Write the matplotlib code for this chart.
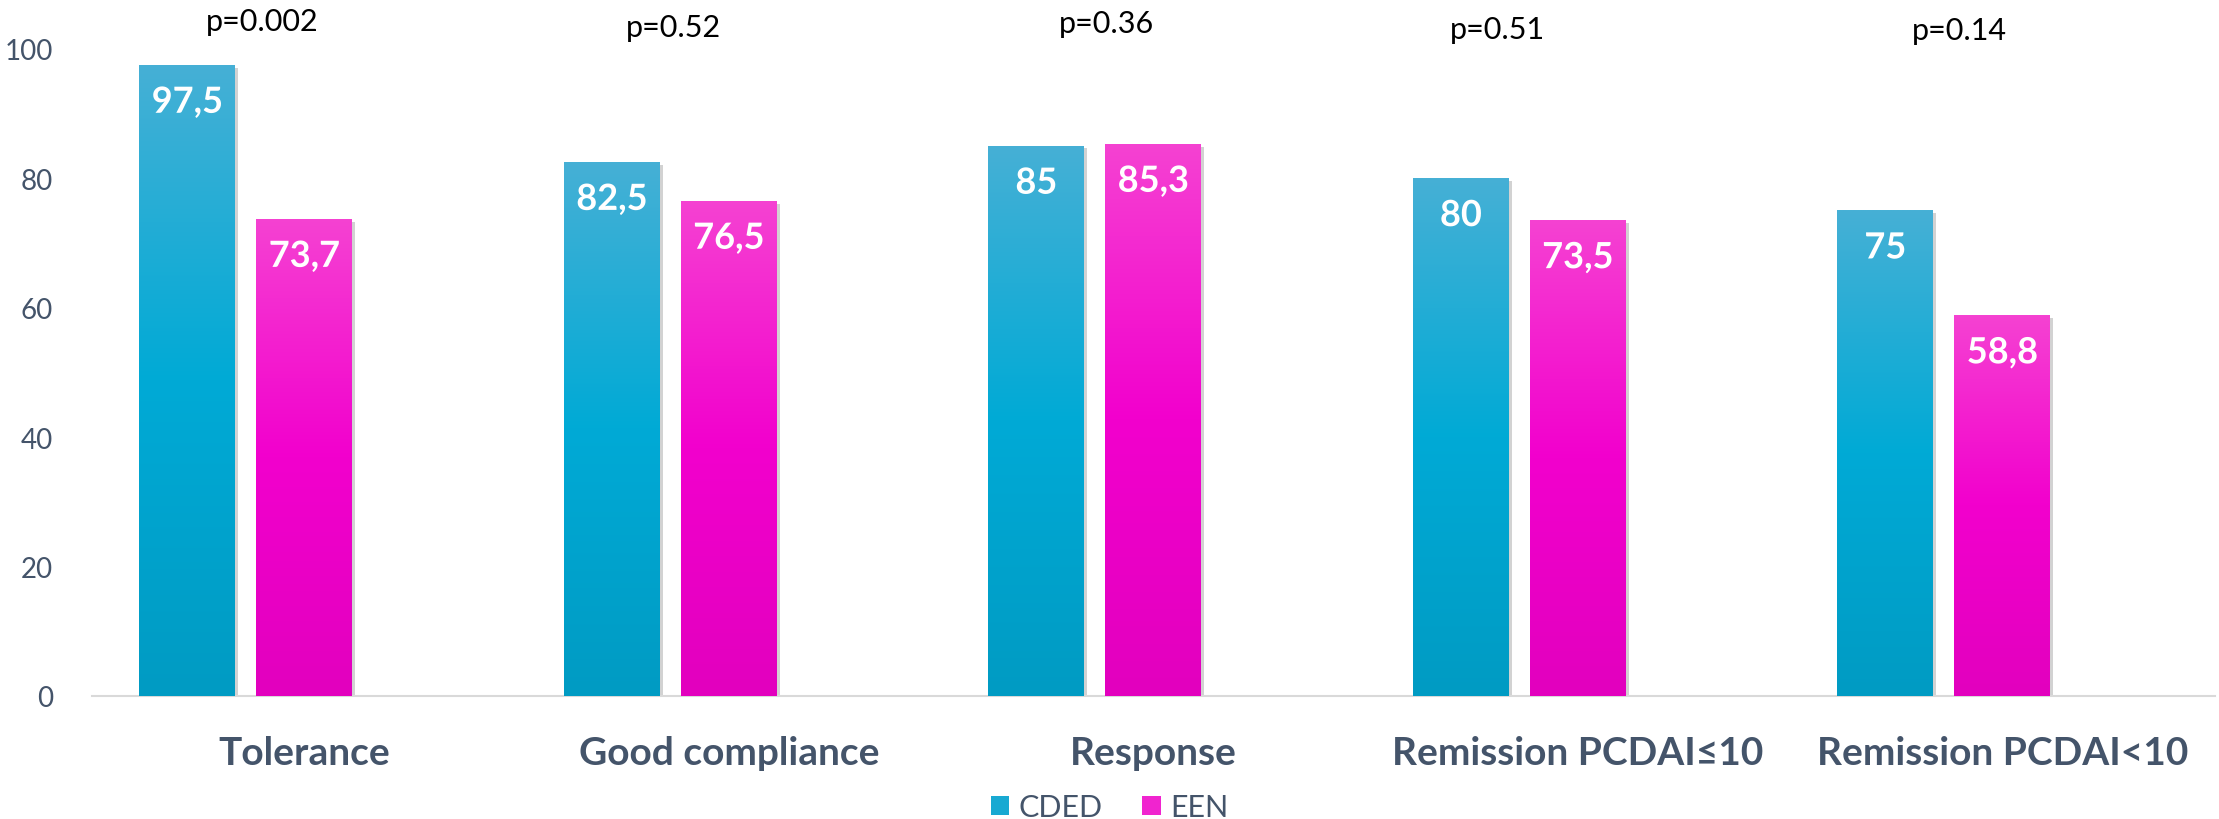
import numpy as np
import matplotlib.pyplot as plt
import matplotlib.patheffects as pe
from matplotlib.colors import LinearSegmentedColormap
from matplotlib.patches import Patch

plt.rcParams['font.family'] = ['Lato', 'DejaVu Sans']

categories = ['Tolerance', 'Good compliance', 'Response', 'Remission PCDAI\u226410', 'Remission PCDAI<10']
cded = [97.5, 82.5, 85, 80, 75]
een = [73.7, 76.5, 85.3, 73.5, 58.8]
p_values = ['p=0.002', 'p=0.52', 'p=0.36', 'p=0.51', 'p=0.14']
p_shift = [-0.10, -0.13, -0.11, -0.19, -0.10]   # text boxes were placed by hand
p_height = [104.2, 103.4, 103.9, 103.1, 102.8]

txt_col = '#44546A'
cded_cmap = LinearSegmentedColormap.from_list('cded', ['#009BC3', '#00AAD6', '#46B0D5'])
een_cmap = LinearSegmentedColormap.from_list('een', ['#E200BE', '#F200CD', '#F542D2'])

fig = plt.figure(figsize=(22.19, 8.2), dpi=100)
ax = fig.add_axes([0.0415, 0.15, 0.9565, 0.7895])

x = np.arange(len(categories))
w = 0.226
step = 0.2756

def gradient_bars(xpos, vals, cmap):
    bars = ax.bar(xpos, vals, w, color='none', edgecolor='none', zorder=2,
                  path_effects=[pe.SimplePatchShadow(offset=(2, -2), alpha=0.25)])
    grad = np.linspace(0, 1, 256).reshape(-1, 1)
    for b in bars:
        x0 = b.get_x()
        im = ax.imshow(grad, cmap=cmap, origin='lower', aspect='auto',
                       extent=[x0, x0 + b.get_width(), 0, b.get_height()], zorder=3)
        im.set_clip_path(b)
    return bars

gradient_bars(x - step, cded, cded_cmap)
gradient_bars(x, een, een_cmap)

for i in range(len(categories)):
    for xp, v in [(x[i] - step, cded[i]), (x[i], een[i])]:
        lab = ('%g' % v).replace('.', ',')
        t = ax.annotate(lab, (xp, v), xytext=(0, -27), textcoords='offset points',
                        ha='center', va='center', color='white', fontsize=26,
                        fontweight='bold', zorder=5)
        t.set_path_effects([pe.SimpleLineShadow(offset=(1.5, -1.5), alpha=0.5), pe.Normal()])
    ax.text(x[i] + p_shift[i], p_height[i], p_values[i], ha='center', va='center',
            fontsize=22, color='black', clip_on=False)

ax.set_xlim(-0.5, len(categories) - 0.5)
ax.set_ylim(0, 100)
ax.set_yticks([0, 20, 40, 60, 80, 100])
ax.set_xticks(x)
ax.set_xticklabels(categories, fontsize=28, fontweight='bold', color=txt_col)
ax.tick_params(axis='y', length=0, labelsize=20, labelcolor=txt_col, pad=28)
ax.tick_params(axis='x', length=0, pad=28)
for s in ['top', 'right', 'left']:
    ax.spines[s].set_visible(False)
ax.spines['bottom'].set_color('#D9D9D9')
ax.spines['bottom'].set_linewidth(1.5)

handles = [Patch(facecolor='#18A9D2', label='CDED'), Patch(facecolor='#F024CF', label='EEN')]
fig.legend(handles=handles, loc='center', bbox_to_anchor=(0.5, 0.0146), ncol=2, frameon=False,
           fontsize=22, labelcolor=txt_col, handlelength=0.6, handleheight=0.6,
           handletextpad=0.3, columnspacing=1.3)

fig.savefig('out.png', dpi=100)
